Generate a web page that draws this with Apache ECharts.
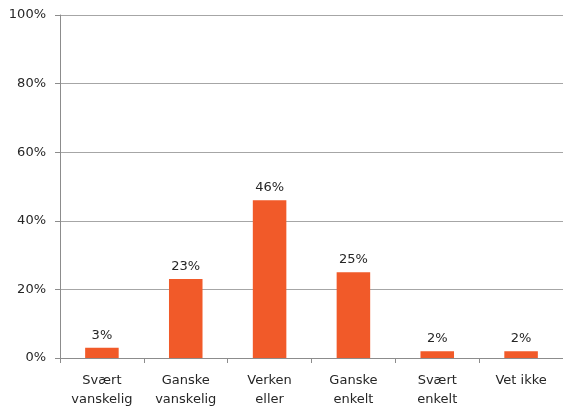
<!DOCTYPE html>
<html><head><meta charset="utf-8">
<script src="https://cdn.jsdelivr.net/npm/echarts@6/dist/echarts.min.js"></script>
<style>html,body{margin:0;padding:0;background:#fff}#c{width:563px;height:406px}</style>
</head><body><div id="c"></div>
<script>
const categories = ["Svært\nvanskelig", "Ganske\nvanskelig", "Verken\neller", "Ganske\nenkelt", "Svært\nenkelt", "Vet ikke"];
const values = [3, 23, 46, 25, 2, 2];
const yTicks = [0, 20, 40, 60, 80, 100];

const font = "'DejaVu Sans', sans-serif";
const chart = echarts.init(document.getElementById('c'), null, {renderer: 'canvas'});
chart.setOption({
  animation: false,
  grid: {left: 60, right: 0, top: 15, bottom: 48, containLabel: false, outerBoundsMode: 'none'},
  xAxis: {
    type: 'category', data: categories,
    axisLine: {lineStyle: {color: '#8c8c8c', width: 1}},
    axisTick: {show: true, length: 5, alignWithLabel: false, lineStyle: {color: '#8c8c8c'}},
    axisLabel: {color: '#262626', fontSize: 13, fontFamily: font, lineHeight: 19, margin: 13, interval: 0}
  },
  yAxis: {
    type: 'value', min: 0, max: 100, interval: 20,
    axisLine: {show: true, lineStyle: {color: '#8c8c8c', width: 1}},
    axisTick: {show: true, length: 5, lineStyle: {color: '#8c8c8c'}},
    splitLine: {show: true, lineStyle: {color: '#a6a6a6', width: 1}},
    axisLabel: {color: '#262626', fontSize: 13, fontFamily: font, margin: 14,
      formatter: v => yTicks.includes(v) ? v + '%' : ''}
  },
  series: [{
    type: 'bar', data: values, barWidth: '40%',
    itemStyle: {color: '#F15A29'},
    label: {show: true, position: 'top', distance: 6, color: '#262626', fontSize: 13, fontFamily: font, formatter: p => p.value + '%'}
  }]
});
</script></body></html>
